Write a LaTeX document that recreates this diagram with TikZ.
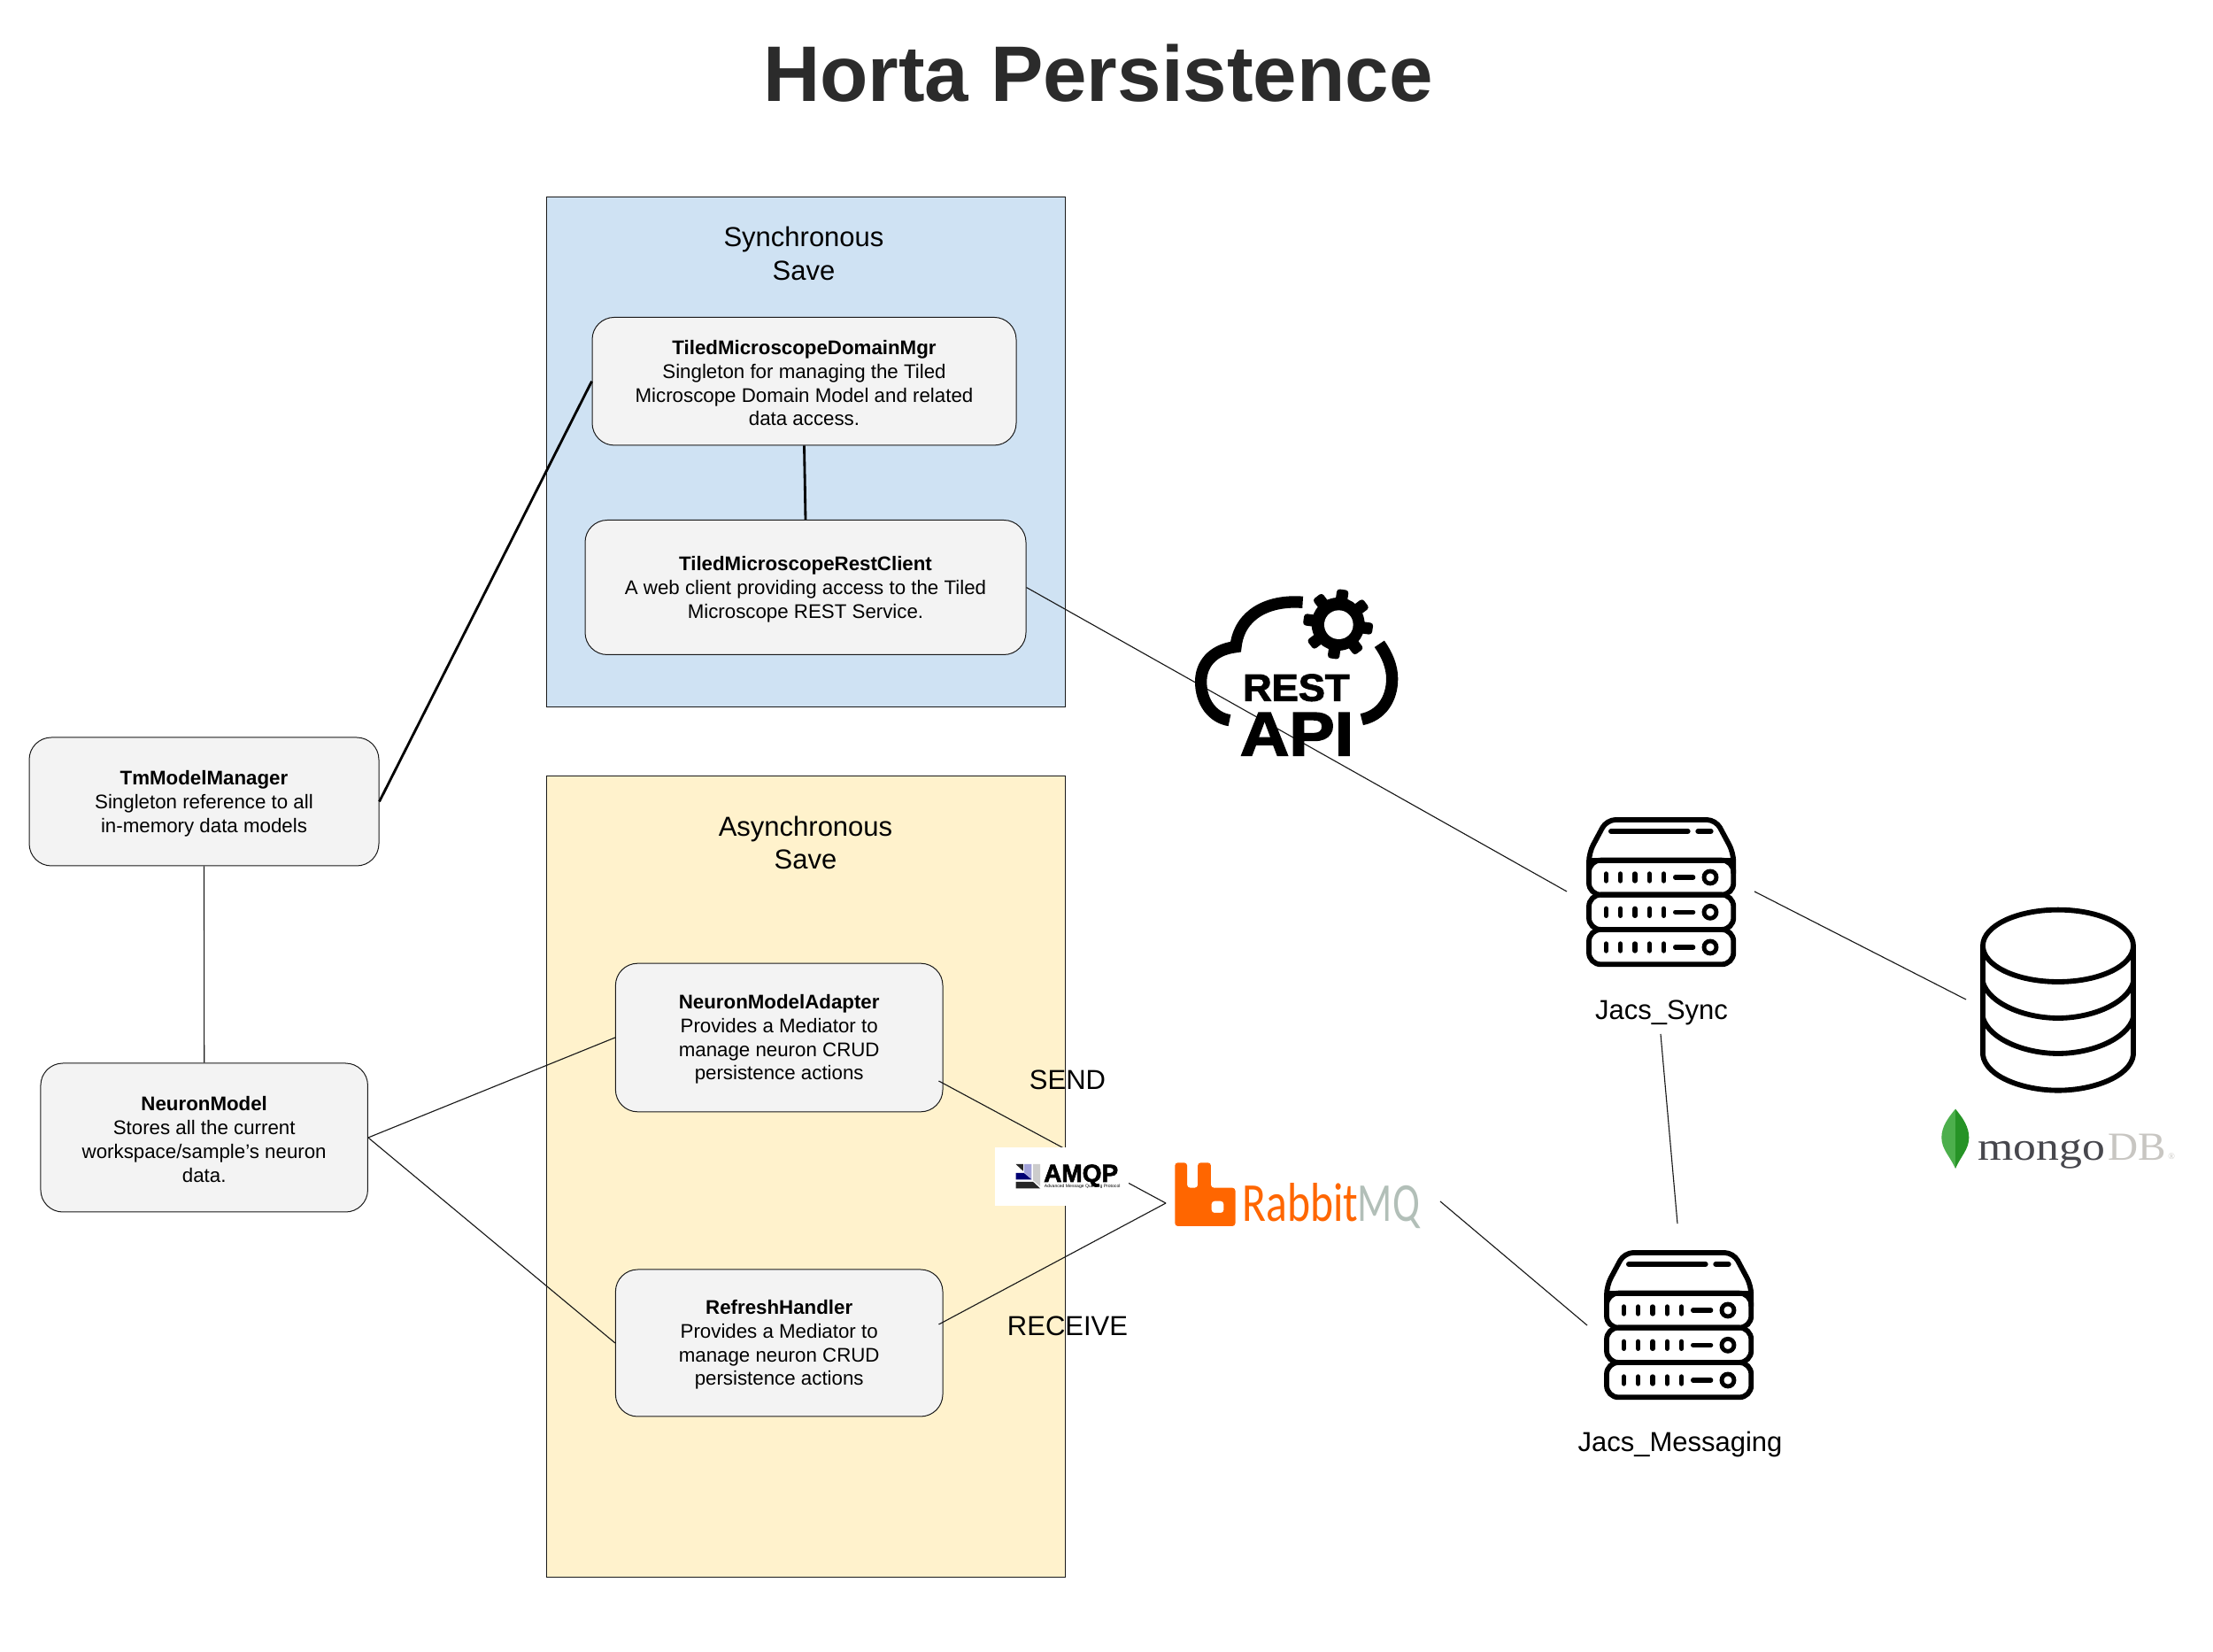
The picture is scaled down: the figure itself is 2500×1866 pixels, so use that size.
\documentclass[tikz,border=0pt]{standalone}
\usepackage{fontspec}
\usepackage{graphicx}
\setmainfont{Liberation Sans}
\newfontfamily\serifF{Liberation Serif}
\newfontfamily\carlF{Carlito}
\newfontfamily\heavyF[BoldFeatures={FakeBold=2.2}]{Liberation Sans}
\newcommand{\fpx}[1]{\fontsize{\fpeval{#1*0.3}}{\fpeval{#1*0.36}}\selectfont}
\newcommand{\boxhead}[1]{\rule{0pt}{6.1pt}\textbf{#1}}
\definecolor{syncblue}{HTML}{CFE2F3}
\definecolor{asyncyellow}{HTML}{FFF2CC}
\definecolor{boxgrey}{HTML}{F3F3F3}
\definecolor{rabbitorange}{HTML}{FF6600}
\definecolor{mqgrey}{HTML}{B2BFB8}
\definecolor{mongodark}{HTML}{47474D}
\definecolor{mongolight}{HTML}{C8C6C2}
\tikzset{
  x=0.3pt,y=-0.3pt,
  groupbox/.style={draw=black!90,line width=.3pt,inner sep=0pt},
  classbox/.style={draw=black!90,line width=.3pt,fill=boxgrey,rounded corners=7.5pt,inner sep=0pt,align=center,font=\fpx{22.3}},
  plainlabel/.style={inner sep=0pt,align=center,font=\fpx{31}},
  thinlink/.style={draw=black!90,line width=.34pt},
  thicklink/.style={draw=black,line width=.85pt},
  iconline/.style={line width=1.75pt,draw=black},
  server/.pic={
    \begin{scope}[scale=0.3333]
      \draw[iconline,rounded corners=3pt] (75,260) -- (75,190) -- (135,78) -- (505,78) -- (565,190) -- (565,260);
      \draw[iconline] (75,215) -- (565,215);
      \foreach \ya/\yb in {215/332,332/450,450/568}{
        \draw[iconline,rounded corners=4pt] (75,\ya) rectangle (565,\yb);
      }
      \draw[line width=1.8pt,line cap=round] (150,117) -- (410,117) (445,117) -- (488,117);
      \foreach \yc in {273,391,510}{
        \foreach \xc in {133,182,231,280,329}{
          \draw[line width=1.6pt,line cap=round] (\xc,\yc-12) -- (\xc,\yc+12);
        }
        \draw[line width=1.6pt,line cap=round] (368,\yc) -- (428,\yc);
        \draw[line width=1.45pt] (486,\yc) circle [radius=21];
      }
    \end{scope}
  }
}
\begin{document}
\begin{tikzpicture}
\useasboundingbox (0,0) rectangle (2500,1866);
\fill[white] (0,0) rectangle (2500,1866);

\node[inner sep=0pt,anchor=base,text=black!83,font=\fpx{89}\bfseries] (title) at (1240.5,115) {Horta Persistence};

% group panels
\node[groupbox,fill=syncblue,minimum width=175.65pt,minimum height=172.8pt] (syncpanel) at (910.25,511) {};
\node[groupbox,fill=asyncyellow,minimum width=175.65pt,minimum height=271.5pt] (asyncpanel) at (910.25,1329.5) {};
\node[plainlabel] (synclabel) at (908,286.5) {Synchronous\\Save};
\node[plainlabel] (asynclabel) at (910,952) {Asynchronous\\Save};

% class boxes
\node[classbox,minimum width=143.7pt,minimum height=43.35pt] (domain) at (908.5,430.7) {\boxhead{TiledMicroscopeDomainMgr}\\Singleton for managing the Tiled\\Microscope Domain Model and related\\data access.};
\node[classbox,minimum width=149.4pt,minimum height=45.6pt] (rest) at (910,663.5) {\boxhead{TiledMicroscopeRestClient}\\A web client providing access to the Tiled\\Microscope REST Service.};
\node[classbox,minimum width=118.5pt,minimum height=43.5pt] (tm) at (230.5,905.5) {\boxhead{TmModelManager}\\Singleton reference to all\\in-memory data models};
\node[classbox,minimum width=110.85pt,minimum height=50.4pt] (neuron) at (230.7,1285) {\boxhead{NeuronModel}\\Stores all the current\\workspace/sample's neuron\\data.};
\node[classbox,minimum width=110.9pt,minimum height=50.3pt] (adapter) at (880.2,1172) {\boxhead{NeuronModelAdapter}\\Provides a Mediator to\\manage neuron CRUD\\persistence actions};
\node[classbox,minimum width=110.9pt,minimum height=49.8pt] (refresh) at (880.2,1517) {\boxhead{RefreshHandler}\\Provides a Mediator to\\manage neuron CRUD\\persistence actions};

% free connector ends
\coordinate (adapterout) at (1060.5,1221);
\coordinate (refreshout) at (1060.5,1496);
\coordinate (rabbitin) at (1317,1359);
\coordinate (rabbitout) at (1627,1357);
\coordinate (msgin) at (1793,1497);
\coordinate (syncin) at (1770,1007);
\coordinate (syncout) at (1982,1007);
\coordinate (dbin) at (2221,1129);
\coordinate (syncbottom) at (1876,1168);
\coordinate (msgtop) at (1895,1382);

% connectors
\draw[thicklink] (tm.east) -- (domain.west);
\draw[thicklink] (domain.south) -- (rest.north);
\draw[thinlink] (tm.south) -- (neuron.north);
\draw[thinlink] (neuron.east) -- (adapter.west);
\draw[thinlink] (neuron.east) -- (refresh.west);
\draw[thinlink] (adapterout) -- (rabbitin);
\draw[thinlink] (refreshout) -- (rabbitin);
\draw[thinlink] (rabbitout) -- (msgin);
\draw[thinlink] (rest.east) -- (syncin);
\draw[thinlink] (syncout) -- (dbin);
\draw[thinlink] (syncbottom) -- (msgtop);

% AMQP logo
\fill[white] (1124,1296) rectangle (1275,1362);
\begin{scope}[shift={(1100,1280)},xscale=0.3444,yscale=0.3333]
  \fill[black!85] (138,165) -- (195,165) -- (218,187) -- (138,187) -- cycle;
  \fill[black!85] (138,105) -- (162,105) -- (162,128) -- cycle;
  \fill[blue!25!white!85!black] (165,105) -- (190,105) -- (190,157) -- (165,132) -- cycle;
  \fill[black!20] (195,105) -- (218,105) -- (218,180) -- (195,160) -- cycle;
  \fill[blue!45!black] (138,135) -- (165,135) -- (190,157) -- (138,157) -- cycle;
  \node[anchor=base west,inner sep=0pt,font=\fpx{28}\heavyF\bfseries] (amqp) at (228,165) {AMQP};
  \node[anchor=base west,inner sep=0pt,font=\fpx{5.1}] (amqpsub) at (230,186) {Advanced Message Queuing Protocol};
\end{scope}

% RabbitMQ logo
\begin{scope}[shift={(1100,1280)},xscale=0.3444,yscale=0.3333]
  \fill[rabbitorange,even odd rule,rounded corners=1pt]
    (660,100) -- (700,100) -- (700,185) -- (735,185) -- (735,100) -- (778,100) -- (778,185) -- (858,185) -- (858,315) -- (660,315) -- cycle
    (780,230) -- (820,230) -- (820,270) -- (780,270) -- cycle;
  \node[anchor=base west,inner sep=0pt,text=rabbitorange] (rabbit) at (880,298) {\fpx{62}\carlF\scalebox{.8}[1]{Rabbit}};
  \node[anchor=base west,inner sep=0pt,text=mqgrey] (mq) at (1258,298) {\fpx{62}\carlF\scalebox{.74}[1]{MQ}};
\end{scope}

% REST API logo
\begin{scope}[shift={(1300,640)},scale=0.3333]
  \draw[line width=4pt] (515,121) .. controls (400,112) and (300,160) .. (288,272)
        .. controls (205,282) and (170,335) .. (170,390)
        .. controls (170,460) and (210,512) .. (267,521);
  \draw[line width=4pt] (775,262) .. controls (802,300) and (818,340) .. (818,380)
        .. controls (818,450) and (780,505) .. (715,518);
  \fill (635,195) circle [radius=90];
  \foreach \k in {0,...,7}{
    \fill[rotate around={82+45*\k:(635,195)},rounded corners=1pt] (635,175) rectangle (753,215);
  }
  \fill[white] (637,197) circle [radius=49];
  \node[anchor=base,inner sep=0pt] (resttext) at (493,455) {\fpx{43}\heavyF\bfseries\scalebox{1.05}[1]{REST}};
  \node[anchor=base,inner sep=0pt] (apitext) at (495,640) {\fpx{70}\heavyF\bfseries\scalebox{1.1}[1]{API}};
\end{scope}

% servers
\pic (syncserver) at (1770,900) {server};
\pic (msgserver) at (1790,1389) {server};
\node[plainlabel,anchor=base] (jacssync) at (1877,1151.5) {Jacs\_Sync};
\node[plainlabel,anchor=base] (jacsmsg) at (1898,1639.5) {Jacs\_Messaging};
\node[plainlabel,anchor=base] (send) at (1206,1231) {SEND};
\node[plainlabel,anchor=base] (receive) at (1206,1508.5) {RECEIVE};

% database
\begin{scope}[shift={(2180,1010)},scale=0.3333]
  \draw[iconline] (435,175) ellipse [x radius=255,y radius=122];
  \draw[iconline] (180,175) -- (180,545) (690,175) -- (690,545);
  \draw[iconline] (180,298) .. controls (200,370) and (320,420) .. (435,420) .. controls (550,420) and (670,370) .. (690,298);
  \draw[iconline] (180,418) .. controls (200,490) and (320,540) .. (435,540) .. controls (550,540) and (670,490) .. (690,418);
  \draw[iconline] (180,545) .. controls (190,620) and (320,665) .. (435,665) .. controls (550,665) and (680,620) .. (690,545);
  % leaf
  \fill[green!55!black!70!white] (87,728) .. controls (60,760) and (40,790) .. (40,825) .. controls (40,865) and (70,890) .. (87,930) -- cycle;
  \fill[green!50!black!85!white] (87,728) .. controls (114,760) and (133,790) .. (133,825) .. controls (133,865) and (104,890) .. (87,930) -- cycle;
  \node[anchor=base west,inner sep=0pt,text=mongodark] (mongo) at (162,903) {\fpx{45}\serifF\scalebox{1.15}[1]{mongo}};
  \node[anchor=base west,inner sep=0pt,text=mongolight] (db) at (603,903) {\fpx{45}\serifF\scalebox{1.05}[1]{DB}};
  \node[anchor=base west,inner sep=0pt,text=mongolight] (reg) at (806,900) {\fpx{10}\serifF ®};
\end{scope}
\end{tikzpicture}
\end{document}
